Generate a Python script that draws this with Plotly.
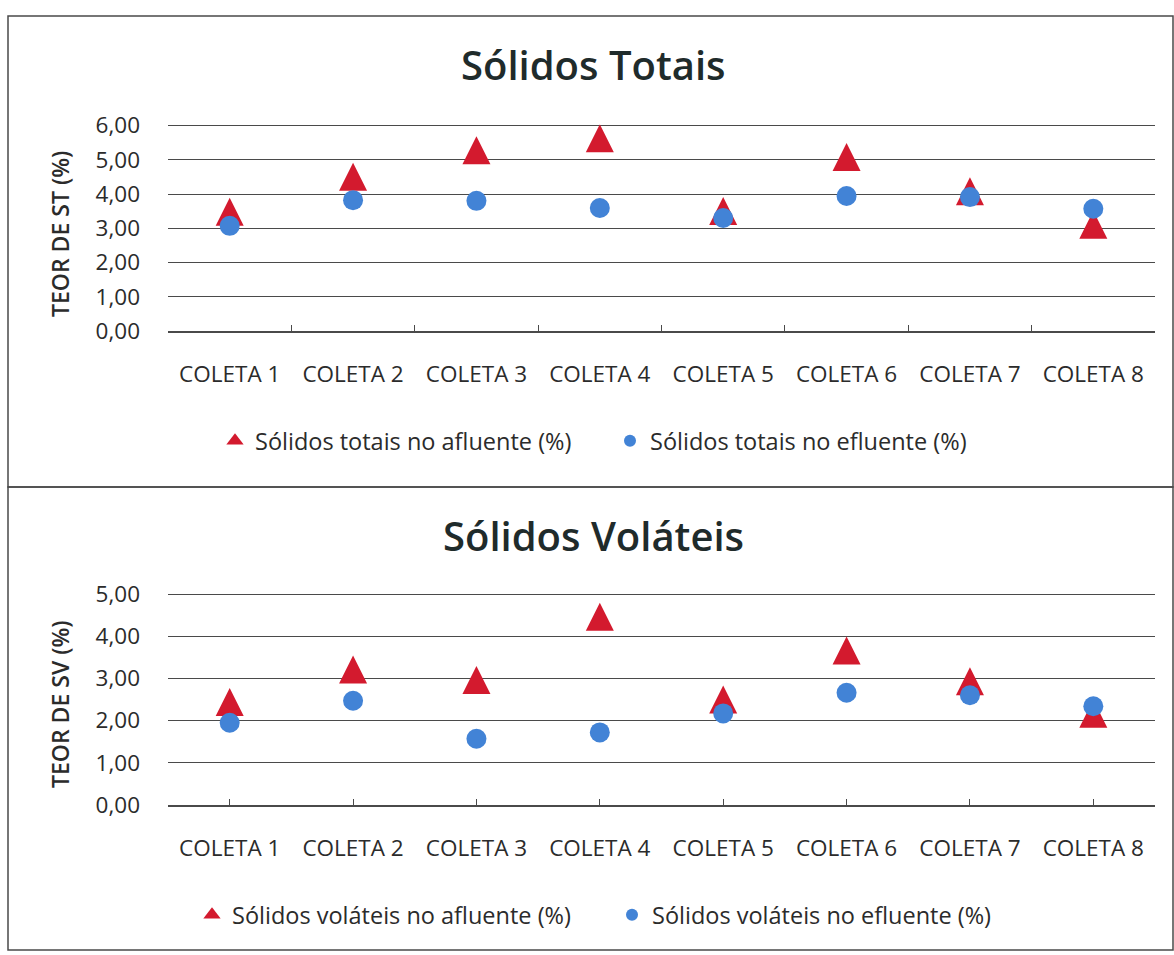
import plotly.graph_objects as go

# Amostras coletadas
coletas = ["COLETA 1", "COLETA 2", "COLETA 3", "COLETA 4",
           "COLETA 5", "COLETA 6", "COLETA 7", "COLETA 8"]

# Teor de sólidos totais (%)
st_afluente = [3.48, 4.50, 5.28, 5.63, 3.50, 5.08, 4.08, 3.10]
st_efluente = [3.07, 3.82, 3.80, 3.59, 3.30, 3.94, 3.91, 3.57]

# Teor de sólidos voláteis (%)
sv_afluente = [2.44, 3.21, 2.96, 4.46, 2.50, 3.66, 2.93, 2.16]
sv_efluente = [1.95, 2.47, 1.57, 1.72, 2.17, 2.66, 2.60, 2.34]

W, H = 1174, 955
FONT = "Open Sans, sans-serif"
RED = "#d31a2e"
BLUE = "#4283d6"
GRID = "#4a4a4a"
TXT = "#2b2b2b"


def px(x):
    return x / W


def py(y):
    return 1 - y / H


TRI_SIZE = 28
tri_marker = dict(symbol="arrow-down", angle=180, standoff=TRI_SIZE / 2,
                  size=TRI_SIZE, color=RED, line=dict(width=0))
dot_marker = dict(symbol="circle", size=20, color=BLUE, line=dict(width=0))

fig = go.Figure()

# Gráfico superior: sólidos totais
fig.add_trace(go.Scatter(x=coletas, y=st_afluente, mode="markers", marker=tri_marker,
                         xaxis="x", yaxis="y", showlegend=False))
fig.add_trace(go.Scatter(x=coletas, y=st_efluente, mode="markers", marker=dot_marker,
                         xaxis="x", yaxis="y", showlegend=False))
# Gráfico inferior: sólidos voláteis
fig.add_trace(go.Scatter(x=coletas, y=sv_afluente, mode="markers", marker=tri_marker,
                         xaxis="x2", yaxis="y2", showlegend=False))
fig.add_trace(go.Scatter(x=coletas, y=sv_efluente, mode="markers", marker=dot_marker,
                         xaxis="x2", yaxis="y2", showlegend=False))

# Entradas de legenda
leg_tri = dict(symbol="triangle-up", size=15, color=RED, line=dict(width=0))
leg_dot = dict(symbol="circle", size=12, color=BLUE, line=dict(width=0))
fig.add_trace(go.Scatter(x=[None], y=[None], mode="markers", marker=leg_tri,
                         name="Sólidos totais no afluente (%)", legend="legend",
                         xaxis="x", yaxis="y"))
fig.add_trace(go.Scatter(x=[None], y=[None], mode="markers", marker=leg_dot,
                         name="Sólidos totais no efluente (%)", legend="legend",
                         xaxis="x", yaxis="y"))
fig.add_trace(go.Scatter(x=[None], y=[None], mode="markers", marker=leg_tri,
                         name="Sólidos voláteis no afluente (%)", legend="legend2",
                         xaxis="x2", yaxis="y2"))
fig.add_trace(go.Scatter(x=[None], y=[None], mode="markers", marker=leg_dot,
                         name="Sólidos voláteis no efluente (%)", legend="legend2",
                         xaxis="x2", yaxis="y2"))

xdom = [px(168), px(1155)]


def xaxis(anchor, tickson):
    return dict(domain=xdom, anchor=anchor, type="category", automargin=False,
                categoryorder="array", categoryarray=coletas,
                range=[-0.5, 7.5], showgrid=False, zeroline=False,
                showline=True, linecolor=GRID, linewidth=1.5,
                ticks="inside", ticklen=6, tickwidth=1, tickcolor=GRID,
                tickson=tickson, ticklabelstandoff=22,
                tickfont=dict(family=FONT, size=22.5, color=TXT))


def yaxis(anchor, zero_px, top_px, top):
    # a tiny headroom keeps the top gridline from being clipped at the edge
    pad = 0.03
    ppu = (zero_px - top_px) / top
    dom = [py(zero_px), py(zero_px - ppu * (top + pad))]
    return dict(domain=dom, anchor=anchor, range=[0, top + pad], automargin=False,
                tickvals=list(range(0, top + 1)),
                tickformat=".2f", showgrid=True, gridcolor=GRID, gridwidth=1.4,
                zeroline=False, showline=False, ticks="",
                ticklabelstandoff=27,
                tickfont=dict(family=FONT, size=22.5, color=TXT))


legend_common = dict(orientation="h", xanchor="left", yanchor="middle",
                     bgcolor="rgba(0,0,0,0)",
                     font=dict(family=FONT, size=23.5, color=TXT))

fig.update_layout(
    width=W, height=H,
    margin=dict(l=0, r=0, t=0, b=0, autoexpand=False),
    paper_bgcolor="white", plot_bgcolor="white",
    separators=",.",
    xaxis=xaxis("y", "boundaries"),
    yaxis=yaxis("x", 331, 125.5, 6),
    xaxis2=xaxis("y2", "labels"),
    yaxis2=yaxis("x2", 805, 594, 5),
    legend=dict(x=px(215), y=py(441), entrywidth=350, **legend_common),
    legend2=dict(x=px(192), y=py(915), entrywidth=375, **legend_common),
    annotations=[
        dict(text="Sólidos Totais", x=px(594), y=py(64), xref="paper", yref="paper",
             showarrow=False, xanchor="center", yanchor="middle",
             font=dict(family=FONT, size=40, color="#1f2b2b", weight=600)),
        dict(text="Sólidos Voláteis", x=px(594), y=py(535), xref="paper", yref="paper",
             showarrow=False, xanchor="center", yanchor="middle",
             font=dict(family=FONT, size=40, color="#1f2b2b", weight=600)),
        dict(text="TEOR DE ST (%)", x=px(60), y=py(234), xref="paper", yref="paper",
             showarrow=False, textangle=-90, xanchor="center", yanchor="middle",
             font=dict(family=FONT, size=23, color=TXT, weight=600)),
        dict(text="TEOR DE SV (%)", x=px(60), y=py(704), xref="paper", yref="paper",
             showarrow=False, textangle=-90, xanchor="center", yanchor="middle",
             font=dict(family=FONT, size=23, color=TXT, weight=600)),
    ],
    shapes=[
        dict(type="rect", xref="paper", yref="paper",
             x0=px(8), x1=px(1173), y0=py(487), y1=py(16),
             line=dict(color="#4a4a4a", width=1.5)),
        dict(type="rect", xref="paper", yref="paper",
             x0=px(8), x1=px(1173), y0=py(950), y1=py(487),
             line=dict(color="#4a4a4a", width=1.5)),
    ],
)

fig.write_html("out.html")
